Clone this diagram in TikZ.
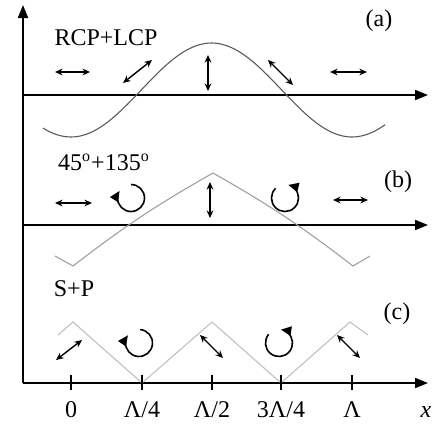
\documentclass[tikz,border=0pt]{standalone}
\usepackage{fontspec}
\setmainfont{Liberation Serif}
\usepackage{tikz}
\usetikzlibrary{arrows.meta,calc}
\definecolor{PLWaveA}{HTML}{5A5A5A}
\definecolor{PLWaveB}{HTML}{A0A0A0}
\definecolor{PLWaveC}{HTML}{C0C0C0}
\tikzset{
  plAxis/.style={line width=1pt, -{Triangle[length=6.5pt,width=5pt]}},
  plTick/.style={line width=0.8pt},
  plWave/.style={draw=#1, line width=0.55pt},
  plWave/.default=PLWaveA,
  plPol/.style={{Stealth[length=3.8pt,width=3.4pt]}-{Stealth[length=3.8pt,width=3.4pt]}, line width=0.7pt},
  plRot/.style={-{Triangle[length=5.2pt,width=4.6pt]}, line width=0.8pt},
  plText/.style={font=\fontsize{12}{14}\selectfont, inner sep=0pt},
  plTickLbl/.style={plText, anchor=base}
}

\begin{document}
\begin{tikzpicture}[x=0.5pt, y=0.5pt]
  \useasboundingbox (0,0) rectangle (439,425);

  \coordinate (origin) at (23,42);
  \coordinate (yTop) at (23,420);
  \coordinate (axA) at (23,330);
  \coordinate (axB) at (23,200);

  \draw[plAxis] (origin) -- (yTop);
  \draw[plAxis] (axA) -- ++(405,0);
  \draw[plAxis] (axB) -- ++(405,0);
  \draw[plAxis] (origin) -- ++(405,0);

  % waves
  \draw[plWave=PLWaveA, domain=43:385, samples=90, smooth] plot (\x, {335-47*cos(1.2811*(\x-71))});
  \draw[plWave=PLWaveB] (55,169) -- (73,159) to[bend left=4] (213,252) to[bend left=4] (353,159) -- (370,169);
  \draw[plWave=PLWaveC] (58,90) -- (73,103) -- (142,42) -- (212,103) -- (281,42) -- (350,103) -- (368,90);

  % ticks and labels
  \foreach \tx/\tl [count=\i] in {71/{0}, 142/{Λ/4}, 212/{Λ/2}, 281/{3Λ/4}, 352/{Λ}} {
    \draw[plTick] (\tx,35) -- (\tx,50);
    \node[plTickLbl] (tick\i) at (\tx,8) {\tl};
  }
  \node[plTickLbl] (xLbl) at (426,8) {\textit{x}};

  % (a)
  \node[plText] (lblA) at (106,387) {RCP+LCP};
  \node[plText] (tagA) at (379,404) {(a)};
  \draw[plPol] (55,353) -- (90,353);
  \draw[plPol] (123,342) -- (152,365);
  \draw[plPol] (208,370) -- (208,334);
  \draw[plPol] (268,365) -- (293,340);
  \draw[plPol] (330,353) -- (367,353);

  % (b)
  \node[plText] (lblB) at (104,263) {45\textsuperscript{o}+135\textsuperscript{o}};
  \node[plText] (tagB) at (398,243) {(b)};
  \coordinate (rotB1) at (131,227);
  \coordinate (rotB2) at (285,227);
  \draw[plPol] (55,222) -- (92,222);
  \draw[plRot] ($(rotB1)+(90:13.5)$) arc[start angle=90, end angle=-212, radius=13.5];
  \draw[plPol] (210,243) -- (210,207);
  \draw[plRot] ($(rotB2)+(134:13.5)$) arc[start angle=134, end angle=436, radius=13.5];
  \draw[plPol] (333,225) -- (368,225);

  % (c)
  \node[plText] (lblC) at (74,136) {S+P};
  \node[plText] (tagC) at (397,111) {(c)};
  \coordinate (rotC1) at (139,82);
  \coordinate (rotC2) at (279,82);
  \draw[plPol] (56,65) -- (82,85);
  \draw[plRot] ($(rotC1)+(85:13.5)$) arc[start angle=85, end angle=-215, radius=13.5];
  \draw[plPol] (200,90) -- (223,67);
  \draw[plRot] ($(rotC2)+(140:13.5)$) arc[start angle=140, end angle=442, radius=13.5];
  \draw[plPol] (337,90) -- (360,67);
\end{tikzpicture}
\end{document}
